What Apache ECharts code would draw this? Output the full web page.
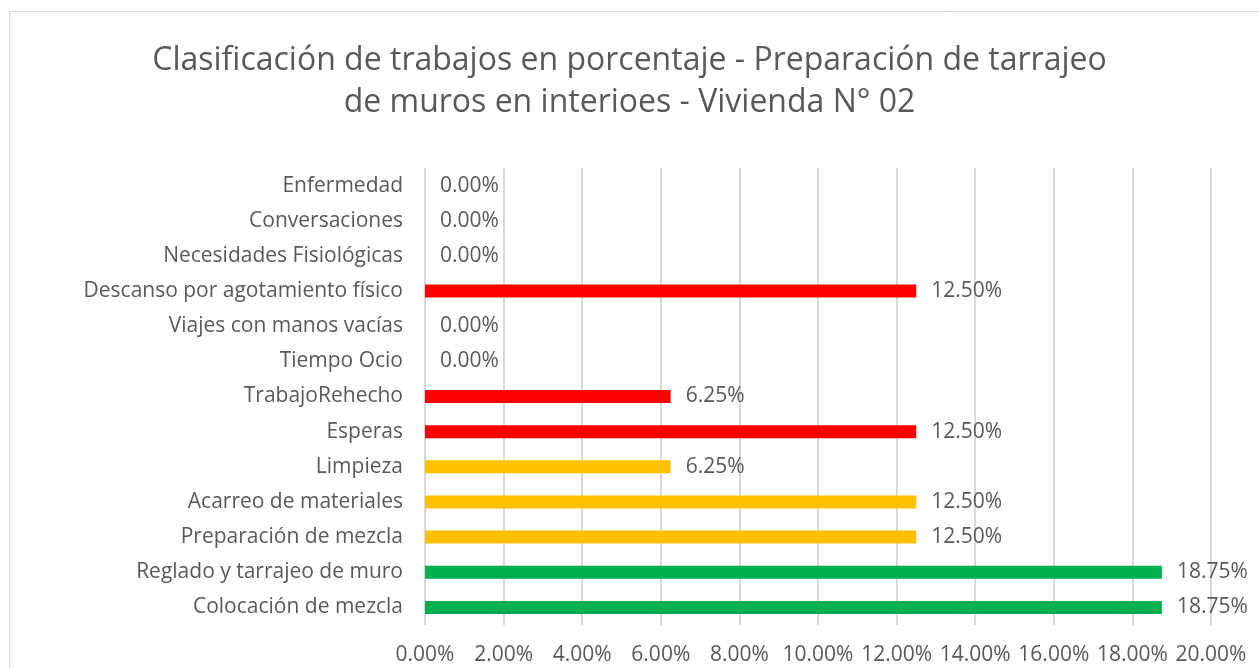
<!DOCTYPE html>
<html>
<head>
<meta charset="utf-8">
<script src="https://cdn.jsdelivr.net/npm/echarts@6/dist/echarts.min.js"></script>
<style>
  html, body { margin: 0; padding: 0; background: #fff; }
  #chart { width: 1259px; height: 668px; }
</style>
</head>
<body>
<div id="chart"></div>
<script>
// bottom to top, as ECharts draws category axes
const categories = [
  "Colocación de mezcla",
  "Reglado y tarrajeo de muro",
  "Preparación de mezcla",
  "Acarreo de materiales",
  "Limpieza",
  "Esperas",
  "TrabajoRehecho",
  "Tiempo Ocio",
  "Viajes con manos vacías",
  "Descanso por agotamiento físico",
  "Necesidades Fisiológicas",
  "Conversaciones",
  "Enfermedad"
];
const percentages = [18.75, 18.75, 12.5, 12.5, 6.25, 12.5, 6.25, 0, 0, 12.5, 0, 0, 0];
const groups = ["TP", "TP", "TC", "TC", "TC", "TNC", "TNC", "TNC", "TNC", "TNC", "TNC", "TNC", "TNC"];
const xTicks = [0, 2, 4, 6, 8, 10, 12, 14, 16, 18, 20];

const GROUP_COLORS = { TP: "#00b050", TC: "#ffc000", TNC: "#ff0000" };
const FONT = "'Open Sans', sans-serif";
const TEXT = "#595959";

const chart = echarts.init(document.getElementById("chart"), null, { renderer: "canvas" });
chart.setOption({
  backgroundColor: "#fff",
  animation: false,
  title: {
    text: "Clasificación de trabajos en porcentaje - Preparación de tarrajeo\nde muros en interioes - Vivienda N° 02",
    left: "center",
    top: 40,
    padding: [0, 0, 0, 17],
    textStyle: { color: TEXT, fontFamily: FONT, fontSize: 32, fontWeight: "normal", lineHeight: 42 }
  },
  graphic: [{
    type: "rect",
    shape: { x: 9.5, y: 11.5, width: 1400, height: 800 },
    style: { fill: "none", stroke: "#d9d9d9", lineWidth: 1 },
    silent: true
  }],
  grid: { left: 425, right: 48, top: 168, bottom: 43 },
  xAxis: {
    type: "value",
    min: xTicks[0],
    max: xTicks[xTicks.length - 1],
    interval: 2,
    axisLine: { show: false },
    axisTick: { show: false },
    axisLabel: {
      color: TEXT, fontFamily: FONT, fontSize: 21, margin: 20,
      formatter: (v) => v.toFixed(2) + "%"
    },
    splitLine: { show: true, lineStyle: { color: "#d9d9d9", width: 2 } }
  },
  yAxis: {
    type: "category",
    data: categories,
    axisLine: { show: false },
    axisTick: { show: false },
    axisLabel: { color: TEXT, fontFamily: FONT, fontSize: 21, margin: 22 }
  },
  series: [{
    type: "bar",
    barWidth: 13,
    data: percentages.map((v, i) => ({ value: v, itemStyle: { color: GROUP_COLORS[groups[i]] } })),
    label: {
      show: true,
      position: "right",
      distance: 15,
      color: TEXT,
      fontFamily: FONT,
      fontSize: 21,
      formatter: (p) => p.value.toFixed(2) + "%"
    }
  }]
});
</script>
</body>
</html>
